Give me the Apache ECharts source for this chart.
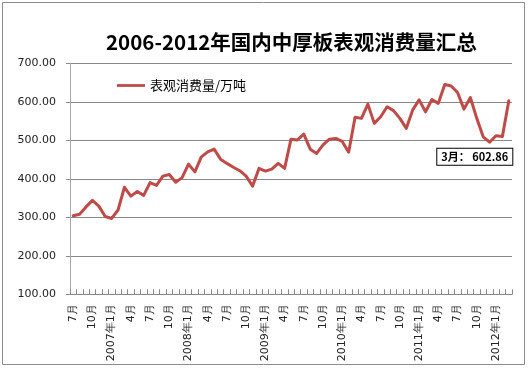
<!DOCTYPE html>
<html><head><meta charset="utf-8">
<script src="https://cdn.jsdelivr.net/npm/echarts@6/dist/echarts.min.js"></script>
<style>html,body{margin:0;padding:0;background:#fff}#c{width:529px;height:368px}</style>
</head><body><div id="c"></div>
<script>
var titleText = '2006-2012年国内中厚板表观消费量汇总';
var seriesName = '表观消费量/万吨';
var categories = [
 '7月','8月','9月','10月','11月','12月',
 '2007年1月','2月','3月','4月','5月','6月','7月','8月','9月','10月','11月','12月',
 '2008年1月','2月','3月','4月','5月','6月','7月','8月','9月','10月','11月','12月',
 '2009年1月','2月','3月','4月','5月','6月','7月','8月','9月','10月','11月','12月',
 '2010年1月','2月','3月','4月','5月','6月','7月','8月','9月','10月','11月','12月',
 '2011年1月','2月','3月','4月','5月','6月','7月','8月','9月','10月','11月','12月',
 '2012年1月','2月','3月'
];
var values = [
 304,308,327,344,329,302,
 297,319,378,355,367,357,390,383,407,411,391,403,
 438,418,457,470,477,451,440,430,421,407,381,427,
 420,425,440,427,503,501,516,477,466,488,503,505,
 497,469,560,557,594,544,561,587,577,557,531,579,
 605,574,606,596,645,641,624,581,611,557,509,495,
 512,510,602.86
];
var lastLabel = '3月： 602.86';
var yMin = 100, yMax = 700, yStep = 100;

var lastIdx = values.length - 1;

var chart = echarts.init(document.getElementById('c'), null, {renderer: 'canvas'});
chart.setOption({
  animation: false,
  backgroundColor: '#fff',
  graphic: [{type: 'rect', shape: {x: 2.5, y: 2.5, width: 522, height: 362}, style: {fill: 'none', stroke: '#8c8c8c', lineWidth: 1}, z: -1}],
  title: {text: titleText, left: 101, top: 27, textStyle: {fontFamily: 'Noto Sans CJK SC', fontWeight: 'bold', fontSize: 20.5, color: '#000'}},
  legend: {left: 112, top: 74, icon: 'path://M0,0H10V1H0Z', itemWidth: 28, itemHeight: 3, itemGap: 4,
    textStyle: {fontFamily: 'Noto Sans CJK SC', fontSize: 13, color: '#000'}, data: [seriesName]},
  grid: {left: 70, right: 17, top: 63.3, bottom: 73.7},
  xAxis: {type: 'category', data: categories, boundaryGap: true,
    axisLine: {lineStyle: {color: '#888', width: 1}},
    axisTick: {show: true, inside: true, length: 5, interval: 0, lineStyle: {color: '#888'}},
    axisLabel: {interval: 2, rotate: 90, margin: 10, fontFamily: 'DejaVu Sans', fontSize: 11, color: '#222'},
    splitLine: {show: false}},
  yAxis: {type: 'value', min: yMin, max: yMax, interval: yStep,
    axisLine: {show: true, lineStyle: {color: '#aaa', width: 1}},
    axisTick: {show: true, length: 4, lineStyle: {color: '#888'}},
    axisLabel: {margin: 14, fontFamily: 'DejaVu Sans', fontSize: 11, color: '#222', formatter: function(v){return v.toFixed(2);}},
    splitLine: {show: true, lineStyle: {color: '#888', width: 1}}},
  series: [{name: seriesName, type: 'line', data: values, showSymbol: false, symbol: 'none', smooth: false,
    lineStyle: {color: '#be4b48', width: 3, join: 'round', cap: 'round'}, itemStyle: {color: '#be4b48'},
    markPoint: {
      symbol: 'circle', symbolSize: 1, itemStyle: {color: 'rgba(0,0,0,0)'},
      data: [{coord: [lastIdx, values[lastIdx]]}],
      label: {show: true, formatter: lastLabel, position: 'inside', offset: [-34, 56],
        fontFamily: 'Noto Sans CJK SC', fontWeight: 'bold', fontSize: 11, color: '#000',
        backgroundColor: '#fff', borderColor: '#000', borderWidth: 1, padding: [3, 4, 2, 4]}
    }}]
});
</script></body></html>
